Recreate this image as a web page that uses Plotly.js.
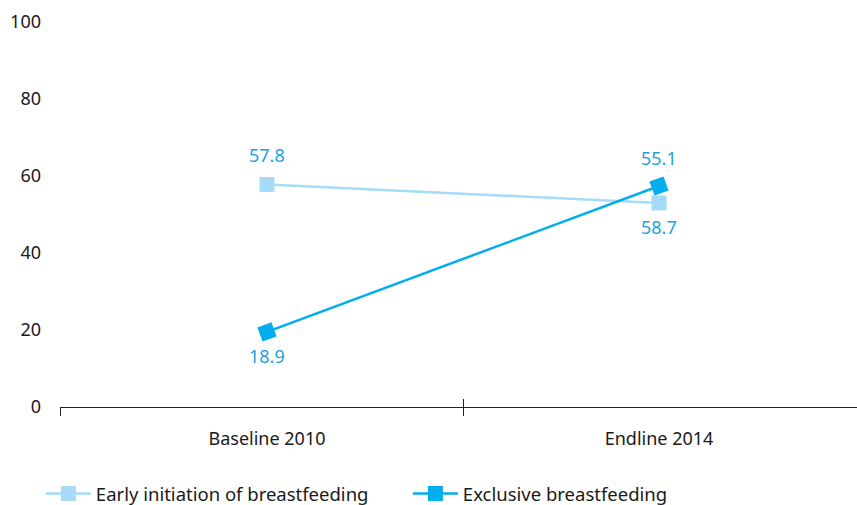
<!DOCTYPE html>
<html><head><meta charset="utf-8">
<script src="https://cdn.plot.ly/plotly-3.0.1.min.js"></script>
<style>html,body{margin:0;padding:0;background:#fff;}#chart{width:857px;height:505px;}</style>
</head><body><div id="chart"></div>
<script>
const categories = ['Baseline 2010', 'Endline 2014'];
const earlyValues = [57.8, 53.0];
const earlyLabels = ['57.8', '58.7'];
const exclusiveValues = [19.5, 57.4];
const exclusiveLabels = ['18.9', '55.1'];
const yTicks = [0, 20, 40, 60, 80, 100];

const font = '"Noto Sans", sans-serif';
const labelColor = '#1AA3DD';
const lightColor = '#A5DBF7';
const darkColor = '#00AEEF';
const xRange = [-0.528, 1.505];
const tickPositions = [-0.528, 0.5];

const traces = [
  {
    x: categories, y: earlyValues, name: 'Early initiation of breastfeeding',
    type: 'scatter', mode: 'lines+markers', legendrank: 1,
    line: {color: lightColor, width: 2.5},
    marker: {symbol: 'square', size: 15, color: lightColor},
    hoverinfo: 'x+y'
  },
  {
    x: categories, y: exclusiveValues, name: 'Exclusive breastfeeding',
    type: 'scatter', mode: 'lines+markers', showlegend: false, legendgroup: 'excl',
    line: {color: darkColor, width: 2.5},
    marker: {symbol: 'square', size: 15, color: darkColor, angle: -20},
    hoverinfo: 'x+y'
  },
  {
    x: [null], y: [null], name: 'Exclusive breastfeeding', legendgroup: 'excl',
    type: 'scatter', mode: 'lines+markers', legendrank: 2, hoverinfo: 'skip',
    line: {color: darkColor, width: 2.5},
    marker: {symbol: 'square', size: 15, color: darkColor}
  },
  {x: tickPositions, y: [null, null], xaxis: 'x2', yaxis: 'y', type: 'scatter',
   mode: 'markers', showlegend: false, hoverinfo: 'skip'},
  {x: tickPositions, y: [null, null], xaxis: 'x3', yaxis: 'y', type: 'scatter',
   mode: 'markers', showlegend: false, hoverinfo: 'skip'}
];

const annotations = [];
const earlyShift = [29, -24];
const exclusiveShift = [-24, 28];
categories.forEach((c, i) => {
  annotations.push({x: c, y: earlyValues[i], text: earlyLabels[i], showarrow: false,
    yshift: earlyShift[i], font: {family: font, size: 18, color: labelColor}});
  annotations.push({x: c, y: exclusiveValues[i], text: exclusiveLabels[i], showarrow: false,
    yshift: exclusiveShift[i], font: {family: font, size: 18, color: labelColor}});
});

const helperAxis = (ticks) => ({
  type: 'linear', overlaying: 'x', anchor: 'y', side: 'bottom', range: xRange,
  tickvals: tickPositions, ticks: ticks, ticklen: 8, tickcolor: '#222', tickwidth: 1,
  showticklabels: false, showline: false, showgrid: false, zeroline: false
});

const layout = {
  width: 857, height: 505,
  margin: {l: 60, r: 0, t: 22, b: 98, autoexpand: false},
  paper_bgcolor: '#fff', plot_bgcolor: '#fff',
  font: {family: font, size: 18, color: '#1a1a1a'},
  showlegend: true,
  legend: {orientation: 'h', x: -0.024, xanchor: 'left', y: -0.226, yanchor: 'middle',
           font: {family: font, size: 18.5, color: '#1a1a1a'},
           itemwidth: 45, entrywidth: 307, entrywidthmode: 'pixels'},
  annotations: annotations,
  xaxis: {
    type: 'category', ticks: '', showline: true, linecolor: '#222', linewidth: 1,
    showgrid: false, zeroline: false, range: xRange,
    ticklabelstandoff: 15,
    tickfont: {family: font, size: 18, color: '#1a1a1a'}
  },
  xaxis2: helperAxis('outside'),
  xaxis3: helperAxis('inside'),
  yaxis: {
    range: [0, 100], tickvals: yTicks, showgrid: false, zeroline: false,
    showline: false, ticks: '', ticklabelstandoff: 18,
    tickfont: {family: font, size: 18, color: '#1a1a1a'}
  }
};

Plotly.newPlot('chart', traces, layout, {displayModeBar: false});
</script></body></html>
